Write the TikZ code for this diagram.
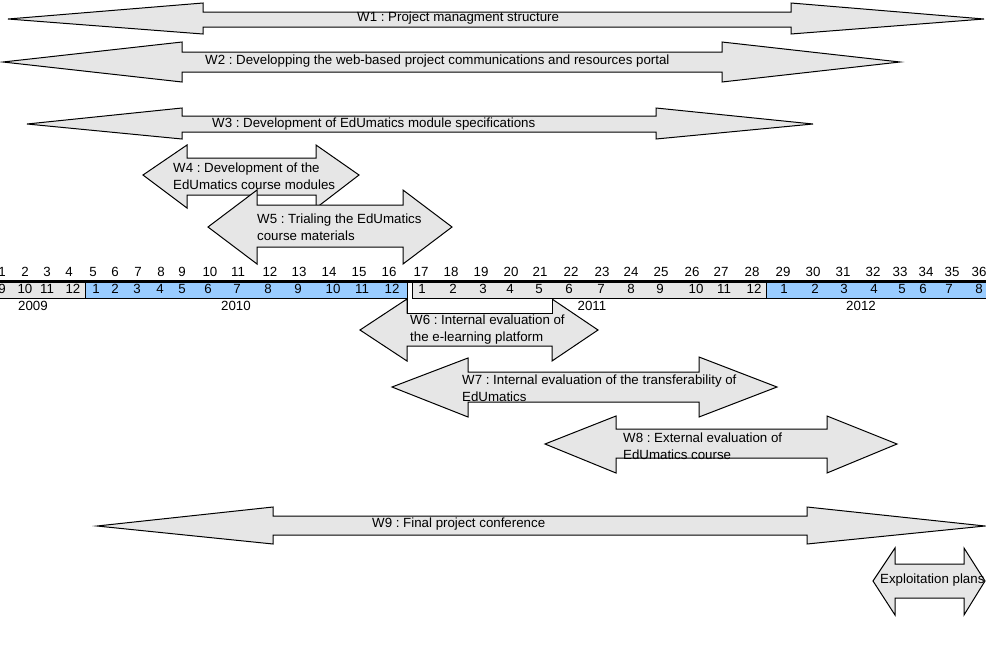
\documentclass[tikz,border=0pt]{standalone}
\usepackage{fontspec}
\setmainfont{Liberation Sans}
\definecolor{arrgray}{RGB}{230,230,230}
\definecolor{barblue}{RGB}{153,204,255}
\tikzset{
  arr/.style={fill=arrgray,draw=black,line width=1pt,line join=miter},
  lbl/.style={inner sep=0pt,anchor=west,align=left,font=\fontsize{13.3}{17}\selectfont},
  num/.style={inner sep=0pt,anchor=base,font=\fontsize{13.3}{16}\selectfont},
  cell/.style={draw=black,line width=1pt},
}
\begin{document}
\begin{tikzpicture}[x=1pt,y=-1pt]
\useasboundingbox (0,0) rectangle (986,646);
% W1
\filldraw[arr] (8,19) -- (203,3) -- (203,12) -- (791,12) -- (791,3) -- (984,19) -- (791,34) -- (791,27) -- (203,27) -- (203,34) -- cycle;
\node[lbl] (w1) at (357,18) {W1 :\ Project managment structure};
% W2
\filldraw[arr] (3,62) -- (182,42) -- (182,52) -- (722,52) -- (722,42) -- (900,62) -- (722,82) -- (722,72) -- (182,72) -- (182,82) -- cycle;
\node[lbl] (w2) at (205,61) {W2 :\ Developping the web-based project communications and resources portal};
% W3
\filldraw[arr] (27,124) -- (182,108) -- (182,116) -- (656,116) -- (656,108) -- (813,124) -- (656,139) -- (656,132) -- (182,132) -- (182,139) -- cycle;
\node[lbl] (w3) at (212,124) {W3 :\ Development of EdUmatics module specifications};
% W4
\filldraw[arr] (143,175) -- (187,145) -- (187,158) -- (316,158) -- (316,145) -- (359,175) -- (316,208) -- (316,195) -- (187,195) -- (187,208) -- cycle;
\node[lbl] (w4) at (173,176) {W4 :\ Development of the\\EdUmatics course modules};
% W5
\filldraw[arr] (208,227) -- (257,190) -- (257,205) -- (403,205) -- (403,190) -- (452,227) -- (403,264) -- (403,247) -- (257,247) -- (257,264) -- cycle;
\node[lbl] (w5) at (257,227) {W5 :\ Trialing the EdUmatics\\course materials};
% W6
\filldraw[arr] (360,330) -- (407,299) -- (407,313) -- (552,313) -- (552,299) -- (598,330) -- (552,361) -- (552,346) -- (407,346) -- (407,361) -- cycle;
% timeline
\filldraw[fill=white,cell] (407,282) rectangle (552,313);
\filldraw[fill=arrgray,cell] (-1,282) rectangle (85,298);
\filldraw[fill=barblue,cell] (85,282) rectangle (407,298);
\filldraw[fill=arrgray,cell] (412,282) rectangle (766,298);
\filldraw[fill=barblue,cell] (766,282) rectangle (987,298);
\draw[line width=2pt] (0,281) -- (986,281);
\node[lbl] (w6) at (410,330) {W6 :\ Internal evaluation of\\the e-learning platform};
\foreach \x [count=\i] in {2,25,47,69,93,115,138,161,182,210,238,270,299,329,359,389,421,451,481,511,540,571,602,631,661,692,721,752,783,813,843,873,900,926,952,979}
  \node[num] (t\i) at (\x,276) {\i};
\foreach \x/\l [count=\i] in {2/9,25/10,47/11,73/12,96/1,115/2,137/3,160/4,182/5,208/6,237/7,268/8,298/9,333/10,362/11,392/12,422/1,453/2,483/3,510/4,539/5,569/6,601/7,631/8,660/9,696/10,724/11,754/12,784/1,815/2,844/3,874/4,902/5,923/6,949/7,979/8}
  \node[num] (m\i) at (\x,293) {\l};
\node[num] (y2009) at (33,310) {2009};
\node[num] (y2010) at (236,310) {2010};
\node[num] (y2011) at (592,310) {2011};
\node[num] (y2012) at (861,310) {2012};
% W7
\filldraw[arr] (392,387) -- (468,358) -- (468,372) -- (699,372) -- (699,357) -- (777,387) -- (699,417) -- (699,402) -- (468,402) -- (468,417) -- cycle;
\node[lbl] (w7) at (462,388) {W7 :\ Internal evaluation of the transferability of\\EdUmatics};
% W8
\fill[arrgray] (545,444) -- (616,416) -- (616,429) -- (827,429) -- (827,416) -- (897,444) -- (827,473) -- (827,458) -- (616,458) -- (616,473) -- cycle;
\node[lbl] (w8) at (623,446) {W8 :\ External evaluation of\\EdUmatics course};
\draw[arr,fill=none] (545,444) -- (616,416) -- (616,429) -- (827,429) -- (827,416) -- (897,444) -- (827,473) -- (827,458) -- (616,458) -- (616,473) -- cycle;
% W9
\filldraw[arr] (97,526) -- (273,507) -- (273,516) -- (807,516) -- (807,507) -- (985,526) -- (807,544) -- (807,535) -- (273,535) -- (273,544) -- cycle;
\node[lbl] (w9) at (372,524) {W9 :\ Final project conference};
% Exploitation
\filldraw[arr] (873,581) -- (895,548) -- (895,564) -- (964,564) -- (964,548) -- (985,581) -- (964,615) -- (964,598) -- (895,598) -- (895,615) -- cycle;
\node[lbl] (ex) at (880,580) {Exploitation plans};
\end{tikzpicture}
\end{document}
